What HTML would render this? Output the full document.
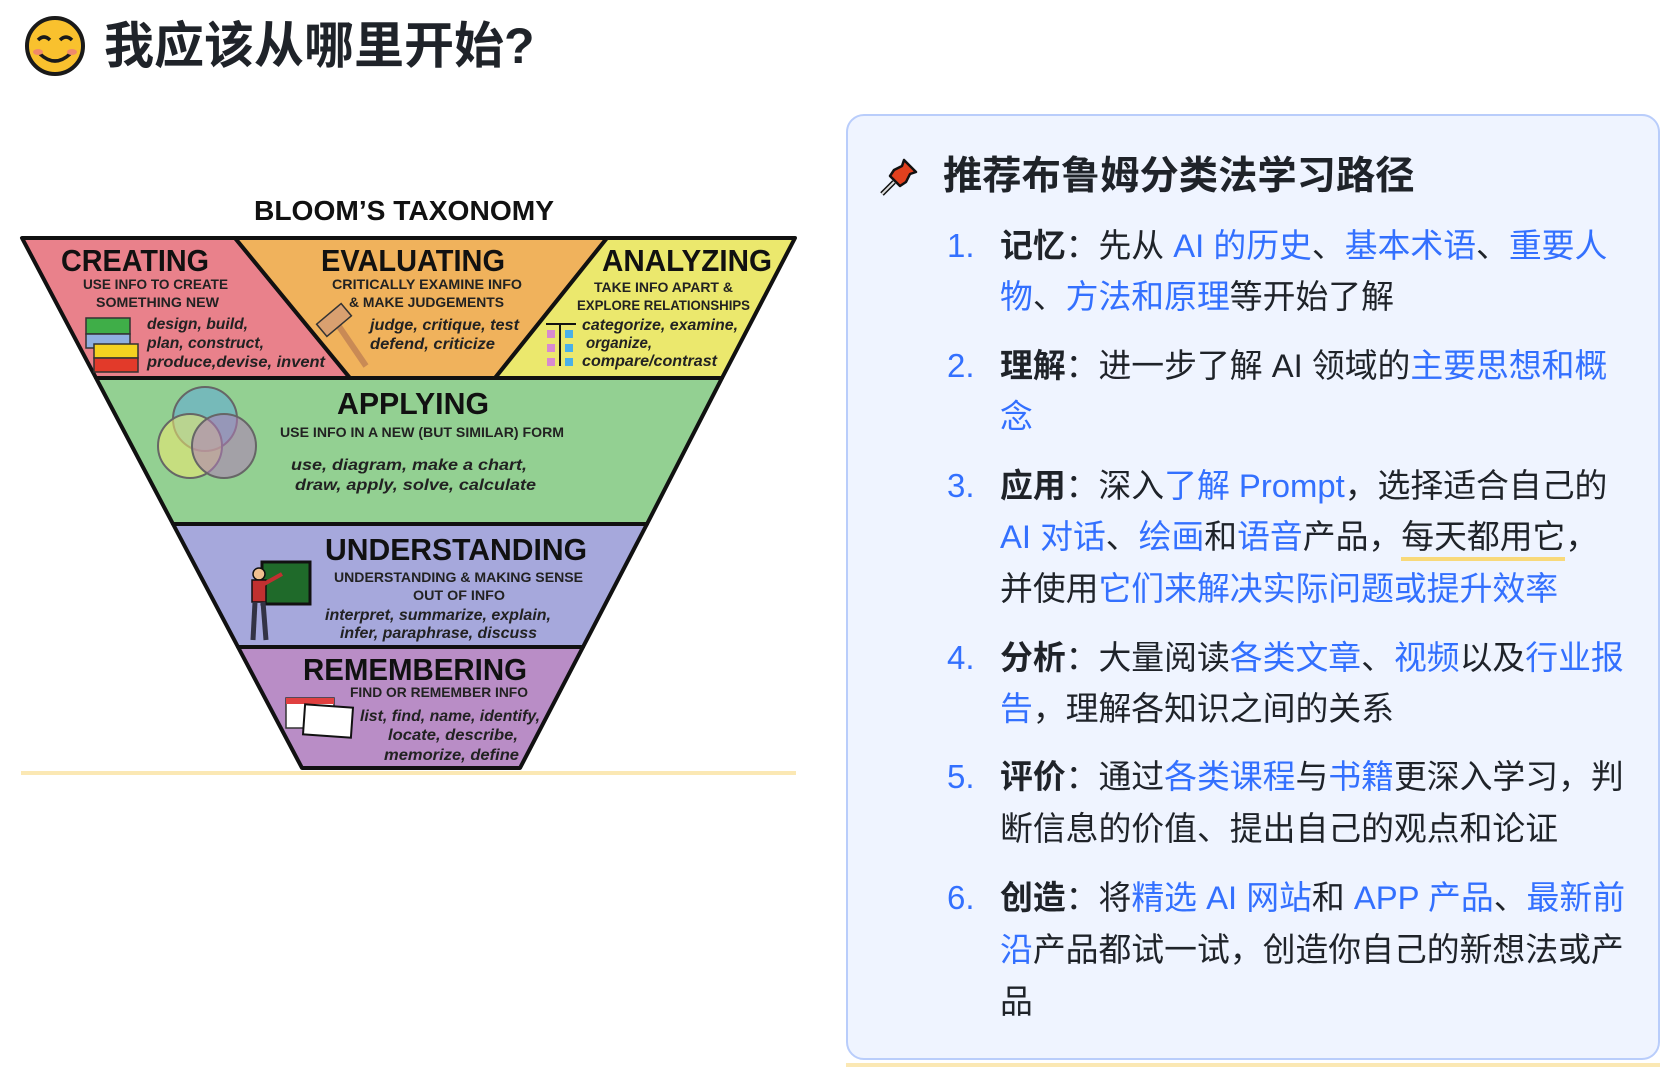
<!DOCTYPE html>
<html><head><meta charset="utf-8">
<style>
*{margin:0;padding:0;box-sizing:border-box}
body{width:1672px;height:1079px;background:#fff;position:relative;overflow:hidden;font-family:"Liberation Sans","Noto Sans CJK SC",sans-serif}
.h1{position:absolute;left:104px;top:14px;font-size:50px;font-weight:bold;color:#1f2329;line-height:64px;white-space:nowrap}
.panel{position:absolute;left:846px;top:114px;width:814px;height:946px;background:#eff4ff;border:2px solid #b9cdfb;border-radius:18px}
.yl{position:absolute;height:4px;background:#fbe8b4}
.h2{position:absolute;left:943px;top:152px;font-size:39.3px;font-weight:bold;color:#1f2329;line-height:48px;white-space:nowrap}
.ln{position:absolute;left:1000px;font-size:32.85px;line-height:52px;height:52px;color:#1f2329;white-space:nowrap}
.num{position:absolute;left:947px;font-size:33px;line-height:52px;color:#3370ff}
.b{color:#3370ff}
strong{font-weight:bold}
svg text{font-family:"Liberation Sans",sans-serif}
</style></head><body>
<svg style="position:absolute;left:0;top:0" width="1672" height="1079">
<circle cx="55" cy="46" r="28" fill="#f9c12e" stroke="#1a1a1a" stroke-width="4"/>
<path d="M38 40 q6 -6 12 0" stroke="#1a1a1a" stroke-width="3.5" fill="none"/>
<path d="M60 40 q6 -6 12 0" stroke="#1a1a1a" stroke-width="3.5" fill="none"/>
<path d="M40 54 q15 14 30 0" stroke="#1a1a1a" stroke-width="3.5" fill="none"/>
<ellipse cx="38" cy="52" rx="5" ry="3" fill="#f08a6a"/><ellipse cx="72" cy="52" rx="5" ry="3" fill="#f08a6a"/>

<text x="254" y="220" font-size="28" font-weight="bold" textLength="300" lengthAdjust="spacingAndGlyphs" fill="#111">BLOOM’S TAXONOMY</text>
<g stroke="#111" stroke-width="4" stroke-linejoin="round">
<polygon points="22,238 235,238 350,378 96,378" fill="#e9818b"/>
<polygon points="235,238 607,238 495,378 350,378" fill="#f0b25c"/>
<polygon points="607,238 795,238 722,378 495,378" fill="#ebe86d"/>
<polygon points="96,378 722,378 647,524 173,524" fill="#93d092"/>
<polygon points="173,524 647,524 583,647 238,647" fill="#a6a8dc"/>
<polygon points="238,647 583,647 520,768 302,768" fill="#b98dc6"/>
</g>
<rect x="86" y="318" width="44" height="16" fill="#3fae48" stroke="#333" stroke-width="1.5"/>
<rect x="86" y="334" width="44" height="14" fill="#8fb0e0" stroke="#333" stroke-width="1.5"/>
<rect x="94" y="344" width="44" height="14" fill="#f5d320" stroke="#333" stroke-width="1.5"/>
<rect x="94" y="358" width="44" height="14" fill="#e23a2a" stroke="#333" stroke-width="1.5"/>
<line x1="336" y1="322" x2="366" y2="366" stroke="#c98a55" stroke-width="6"/>
<rect x="318" y="312" width="32" height="16" fill="#d9a070" stroke="#333" stroke-width="1.5" transform="rotate(-40 334 320)"/>
<line x1="546" y1="324" x2="576" y2="324" stroke="#111" stroke-width="2"/>
<line x1="560" y1="324" x2="560" y2="366" stroke="#111" stroke-width="2"/>
<g fill="#d88ad0"><rect x="547" y="330" width="8" height="8"/><rect x="547" y="344" width="8" height="8"/><rect x="547" y="358" width="8" height="8"/></g>
<g fill="#4ab0e8"><rect x="565" y="330" width="8" height="8"/><rect x="565" y="344" width="8" height="8"/><rect x="565" y="358" width="8" height="8"/></g>
<g stroke="#666" stroke-width="2" fill-opacity="0.55">
<circle cx="205" cy="419" r="32" fill="#5fa8d8"/>
<circle cx="190" cy="446" r="32" fill="#f1ea70"/>
<circle cx="224" cy="446" r="32" fill="#b07ab8"/>
</g>
<rect x="262" y="562" width="48" height="42" fill="#1f6a2a" stroke="#111" stroke-width="3"/>
<circle cx="259" cy="574" r="6" fill="#f0c090" stroke="#111" stroke-width="1.5"/>
<rect x="252" y="580" width="14" height="22" fill="#c03030" stroke="#111" stroke-width="1.5"/>
<line x1="264" y1="584" x2="282" y2="574" stroke="#c03030" stroke-width="4"/>
<line x1="255" y1="602" x2="253" y2="640" stroke="#334" stroke-width="5"/>
<line x1="263" y1="602" x2="266" y2="640" stroke="#334" stroke-width="5"/>
<rect x="286" y="698" width="48" height="30" fill="#fff" stroke="#333" stroke-width="1.5"/>
<rect x="286" y="698" width="48" height="6" fill="#e04040"/>
<rect x="304" y="706" width="48" height="30" fill="#fff" stroke="#111" stroke-width="2" transform="rotate(4 328 721)"/>

<g fill="#111" font-weight="bold">
<text x="61" y="271" font-size="31" textLength="148" lengthAdjust="spacingAndGlyphs">CREATING</text>
<text x="321" y="271" font-size="31" textLength="184" lengthAdjust="spacingAndGlyphs">EVALUATING</text>
<text x="602" y="271" font-size="31" textLength="170" lengthAdjust="spacingAndGlyphs">ANALYZING</text>
<text x="337" y="414" font-size="31" textLength="152" lengthAdjust="spacingAndGlyphs">APPLYING</text>
<text x="325" y="560" font-size="31" textLength="262" lengthAdjust="spacingAndGlyphs">UNDERSTANDING</text>
<text x="303" y="680" font-size="31" textLength="224" lengthAdjust="spacingAndGlyphs">REMEMBERING</text>
</g>
<g fill="#222" font-size="14" font-weight="bold">
<text x="83" y="289" textLength="145" lengthAdjust="spacingAndGlyphs">USE INFO TO CREATE</text>
<text x="96" y="307" textLength="123" lengthAdjust="spacingAndGlyphs">SOMETHING NEW</text>
<text x="332" y="289" textLength="190" lengthAdjust="spacingAndGlyphs">CRITICALLY EXAMINE INFO</text>
<text x="349" y="307" textLength="155" lengthAdjust="spacingAndGlyphs">&amp; MAKE JUDGEMENTS</text>
<text x="594" y="292" textLength="139" lengthAdjust="spacingAndGlyphs">TAKE INFO APART &amp;</text>
<text x="577" y="310" textLength="173" lengthAdjust="spacingAndGlyphs">EXPLORE RELATIONSHIPS</text>
<text x="280" y="437" textLength="284" lengthAdjust="spacingAndGlyphs">USE INFO IN A NEW (BUT SIMILAR) FORM</text>
<text x="334" y="582" textLength="249" lengthAdjust="spacingAndGlyphs">UNDERSTANDING &amp; MAKING SENSE</text>
<text x="413" y="600" textLength="92" lengthAdjust="spacingAndGlyphs">OUT OF INFO</text>
<text x="350" y="697" textLength="178" lengthAdjust="spacingAndGlyphs">FIND OR REMEMBER INFO</text>
</g>
<g fill="#222" font-size="16" font-style="italic" font-weight="bold">
<text x="147" y="329" textLength="101" lengthAdjust="spacingAndGlyphs">design, build,</text>
<text x="147" y="348" textLength="117" lengthAdjust="spacingAndGlyphs">plan, construct,</text>
<text x="147" y="367" textLength="178" lengthAdjust="spacingAndGlyphs">produce,devise, invent</text>
<text x="370" y="330" textLength="149" lengthAdjust="spacingAndGlyphs">judge, critique, test</text>
<text x="370" y="349" textLength="125" lengthAdjust="spacingAndGlyphs">defend, criticize</text>
<text x="582" y="330" textLength="156" lengthAdjust="spacingAndGlyphs">categorize, examine,</text>
<text x="586" y="348" textLength="66" lengthAdjust="spacingAndGlyphs">organize,</text>
<text x="582" y="366" textLength="135" lengthAdjust="spacingAndGlyphs">compare/contrast</text>
<text x="291" y="470" textLength="236" lengthAdjust="spacingAndGlyphs">use, diagram, make a chart,</text>
<text x="295" y="490" textLength="241" lengthAdjust="spacingAndGlyphs">draw, apply, solve, calculate</text>
<text x="325" y="620" textLength="226" lengthAdjust="spacingAndGlyphs">interpret, summarize, explain,</text>
<text x="340" y="638" textLength="197" lengthAdjust="spacingAndGlyphs">infer, paraphrase, discuss</text>
<text x="360" y="721" textLength="180" lengthAdjust="spacingAndGlyphs">list, find, name, identify,</text>
<text x="388" y="740" textLength="130" lengthAdjust="spacingAndGlyphs">locate, describe,</text>
<text x="384" y="760" textLength="135" lengthAdjust="spacingAndGlyphs">memorize, define</text>
</g>
</svg>
<div class="yl" style="left:21px;top:771px;width:775px"></div>

<div class="h1">我应该从哪里开始?</div>

<div class="panel"></div>
<div class="yl" style="left:846px;top:1063px;width:814px"></div>
<svg style="position:absolute;left:876px;top:154px" width="46" height="46" viewBox="0 0 46 46">
<line x1="6" y1="40" x2="18" y2="28" stroke="#111" stroke-width="5"/>
<line x1="6" y1="40" x2="18" y2="28" stroke="#ddd" stroke-width="2"/>
<polygon points="14,22 24,32 30,28 34,20 40,18 28,6 26,12 18,16" fill="#e0401e" stroke="#111" stroke-width="2.5" stroke-linejoin="round"/>
</svg>
<div class="h2">推荐布鲁姆分类法学习路径</div>

<div class="num" style="top:220px">1.</div>
<div class="ln" style="top:220px"><strong>记忆</strong>：先从 <span class="b">AI 的历史</span>、<span class="b">基本术语</span>、<span class="b">重要人</span></div>
<div class="ln" style="top:271px"><span class="b">物</span>、<span class="b">方法和原理</span>等开始了解</div>

<div class="num" style="top:340px">2.</div>
<div class="ln" style="top:340px"><strong>理解</strong>：进一步了解 AI 领域的<span class="b">主要思想和概</span></div>
<div class="ln" style="top:391px"><span class="b">念</span></div>

<div class="num" style="top:460px">3.</div>
<div class="ln" style="top:460px"><strong>应用</strong>：深入<span class="b">了解 Prompt</span>，选择适合自己的</div>
<div class="ln" style="top:511px"><span class="b">AI 对话</span>、<span class="b">绘画</span>和<span class="b">语音</span>产品，<span style="border-bottom:4px solid #f8d97a;padding-bottom:2px">每天都用它</span>，</div>
<div class="ln" style="top:563px">并使用<span class="b">它们来解决实际问题或提升效率</span></div>

<div class="num" style="top:632px">4.</div>
<div class="ln" style="top:632px"><strong>分析</strong>：大量阅读<span class="b">各类文章</span>、<span class="b">视频</span>以及<span class="b">行业报</span></div>
<div class="ln" style="top:683px"><span class="b">告</span>，理解各知识之间的关系</div>

<div class="num" style="top:751px">5.</div>
<div class="ln" style="top:751px"><strong>评价</strong>：通过<span class="b">各类课程</span>与<span class="b">书籍</span>更深入学习，判</div>
<div class="ln" style="top:803px">断信息的价值、提出自己的观点和论证</div>

<div class="num" style="top:872px">6.</div>
<div class="ln" style="top:872px"><strong>创造</strong>：将<span class="b">精选 AI 网站</span>和 <span class="b">APP 产品</span>、<span class="b">最新前</span></div>
<div class="ln" style="top:924px"><span class="b">沿</span>产品都试一试，创造你自己的新想法或产</div>
<div class="ln" style="top:976px">品</div>
</body></html>
